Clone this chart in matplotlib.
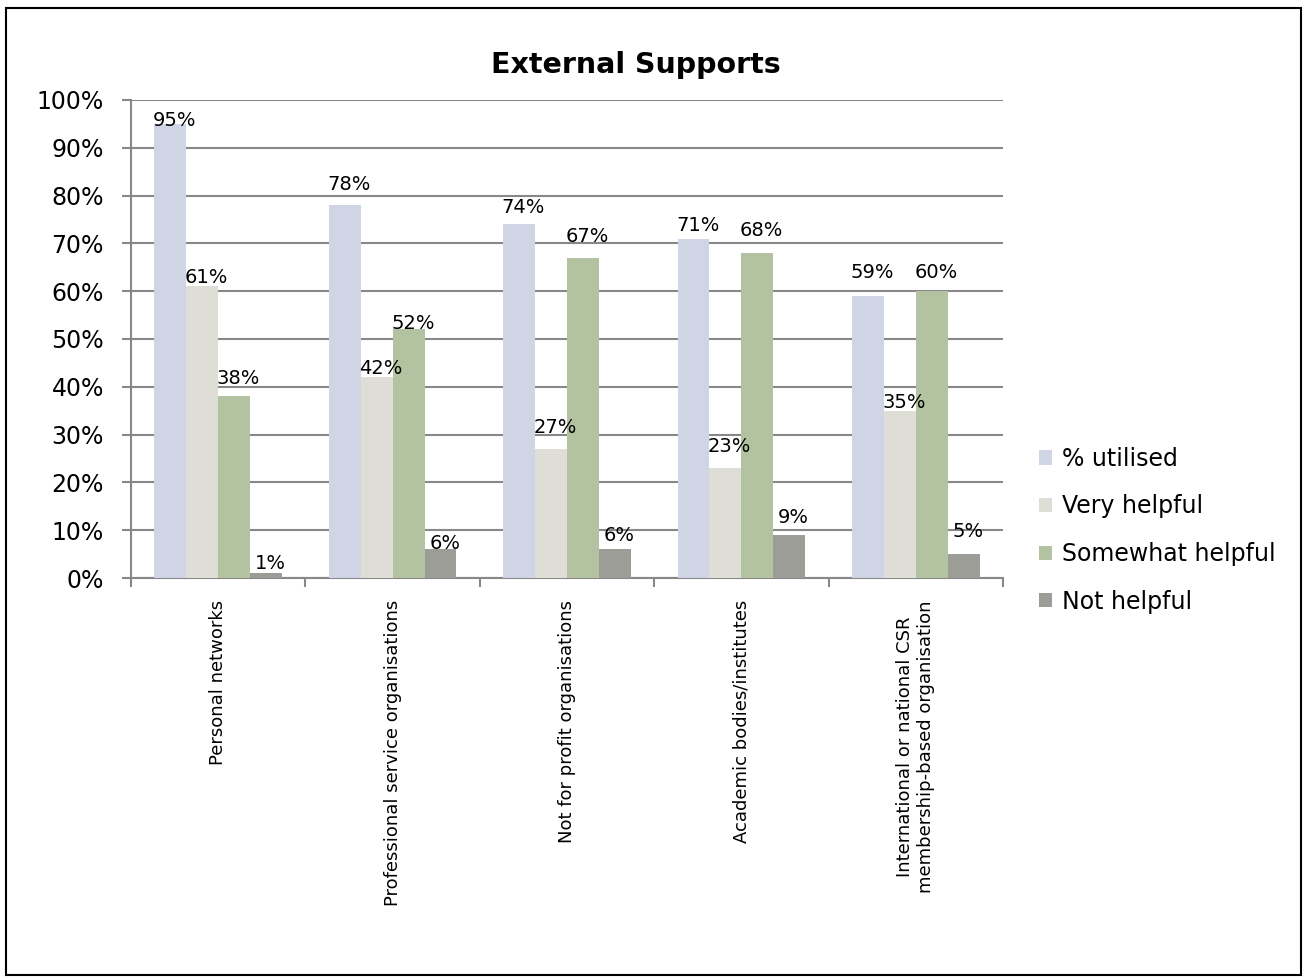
import numpy as np
import matplotlib.pyplot as plt
from matplotlib.patches import Rectangle

plt.rcParams['font.family'] = ['DejaVu Sans']

categories = ["Personal networks", "Professional service organisations",
              "Not for profit organisations", "Academic bodies/institutes",
              "International or national CSR\nmembership-based organisation"]
series_names = ["% utilised", "Very helpful", "Somewhat helpful", "Not helpful"]
utilised = [95, 78, 74, 71, 59]
very_helpful = [61, 42, 27, 23, 35]
somewhat_helpful = [38, 52, 67, 68, 60]
not_helpful = [1, 6, 6, 9, 5]
colors = ["#D0D5E5", "#DEDDD6", "#B3C2A0", "#9C9D96"]

# gap (px) between bar top and label baseline, as placed in the original
label_gap = [[-2, 15, 11, 8, 18],
             [3, 3, 16, 16, 3],
             [12, 0, 16, 17, 13],
             [4, 0, 8, 12, 17]]

values = [utilised, very_helpful, somewhat_helpful, not_helpful]

fig = plt.figure(figsize=(13.07, 9.8), dpi=100)
ax = fig.add_axes([131 / 1307, 1 - 578 / 980, 872 / 1307, 478 / 980])

# figure frame
fig.patches.append(Rectangle((6 / 1307, 5 / 980), 1295 / 1307, 967 / 980,
                             transform=fig.transFigure, fill=False,
                             edgecolor='black', linewidth=1.5))

x = np.arange(len(categories))
w = 0.183
for i, (vals, name, c) in enumerate(zip(values, series_names, colors)):
    pos = x + (i - 1.5) * w
    ax.bar(pos, vals, width=w, color=c, label=name, zorder=3)
    for p, v, g in zip(pos, vals, label_gap[i]):
        ax.annotate(f"{v}%", (p + 0.025, v), xytext=(0, g * 0.72),
                    textcoords='offset points', ha='center', va='baseline',
                    fontsize=14, zorder=4)

ax.set_xlim(-0.5, len(categories) - 0.5)
ax.set_ylim(0, 100)
ax.set_yticks(range(0, 101, 10))
ax.set_yticklabels([f"{t}%" for t in range(0, 101, 10)], fontsize=17)
ax.yaxis.grid(True, color='#888888', linewidth=1.5, zorder=0)
ax.set_axisbelow(True)

ax.set_xticks(np.arange(-0.5, len(categories), 1.0))
ax.set_xticklabels([])
ax.set_xticks(x, minor=True)
ax.set_xticklabels(categories, minor=True, rotation=90, fontsize=13,
                   va='top', ha='center', multialignment='center')
ax.tick_params(axis='x', which='minor', length=0, pad=16)
ax.tick_params(axis='x', which='major', length=6.5, width=1.5, color='#888888')
ax.tick_params(axis='y', length=6.5, width=1.5, color='#888888', pad=13)

for s in ['top', 'right']:
    ax.spines[s].set_visible(False)
for s in ['left', 'bottom']:
    ax.spines[s].set_color('#888888')
    ax.spines[s].set_linewidth(1.5)

fig.text(636 / 1307, 1 - 73 / 980, "External Supports", fontsize=20.5,
         fontweight='bold', ha='center', va='baseline')

ax.legend(loc='center left', bbox_to_anchor=(1.017, 0.10), frameon=False,
          fontsize=17, handlelength=0.55, handleheight=0.55, handletextpad=0.4,
          labelspacing=1.0)

fig.savefig("out.png", dpi=100)
